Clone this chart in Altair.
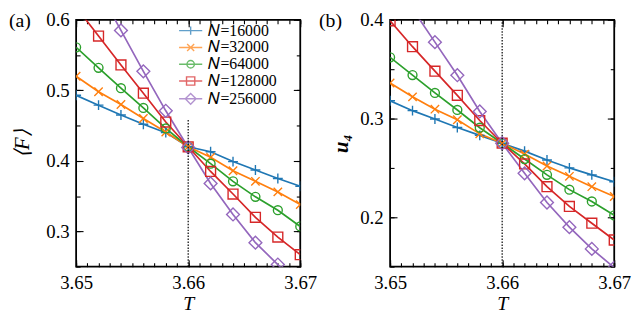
import altair as alt
import pandas as pd

SERIF = "Liberation Serif"

# ---------------- data ----------------
T = [3.650, 3.652, 3.654, 3.656, 3.658, 3.660, 3.662, 3.664, 3.666, 3.668, 3.670]
N_labels = ["𝑁=16000", "𝑁=32000", "𝑁=64000", "𝑁=128000", "𝑁=256000"]
colors = ["#1f77b4", "#ff7f0e", "#2ca02c", "#d62728", "#9467bd"]

# panel (a): <F>
F_16000 = [0.493, 0.479, 0.465, 0.452, 0.440, 0.420, 0.413, 0.399, 0.387, 0.375, 0.364]
F_32000 = [0.520, 0.498, 0.480, 0.460, 0.441, 0.420, 0.405, 0.386, 0.371, 0.356, 0.338]
F_64000 = [0.561, 0.532, 0.503, 0.475, 0.446, 0.420, 0.396, 0.371, 0.349, 0.330, 0.307]
F_128000 = [0.618, 0.577, 0.536, 0.496, 0.455, 0.420, 0.385, 0.353, 0.320, 0.292, 0.267]
F_256000 = [0.700, 0.643, 0.585, 0.527, 0.471, 0.419, 0.368, 0.324, 0.284, 0.253, 0.222]

# panel (b): u4
U_16000 = [0.318, 0.308, 0.2995, 0.291, 0.283, 0.275, 0.267, 0.258, 0.250, 0.243, 0.236]
U_32000 = [0.336, 0.322, 0.3095, 0.2988, 0.2845, 0.275, 0.264, 0.252, 0.2415, 0.231, 0.221]
U_64000 = [0.362, 0.344, 0.326, 0.3087, 0.2907, 0.275, 0.259, 0.243, 0.228, 0.216, 0.202]
U_128000 = [0.399, 0.3728, 0.348, 0.3235, 0.298, 0.275, 0.254, 0.231, 0.211, 0.194, 0.177]
U_256000 = [0.445, 0.411, 0.3774, 0.3439, 0.3072, 0.275, 0.2445, 0.215, 0.190, 0.168, 0.149]

T_c = 3.66
x_major = [3.65, 3.66, 3.67]
x_minor = [round(3.65 + 0.001 * i, 3) for i in range(21)]
ya_major = [0.3, 0.4, 0.5, 0.6]
ya_minor = [0.25, 0.3, 0.35, 0.4, 0.45, 0.5, 0.55, 0.6]
yb_major = [0.2, 0.3, 0.4]
yb_minor = [0.15, 0.2, 0.25, 0.3, 0.35, 0.4]

# marker paths (unit box), and legend versions with a line through
m_plus = "M-1,0H1M0,-1V1"
m_x = "M-0.85,-0.85L0.85,0.85M-0.85,0.85L0.85,-0.85"
m_circle = "M0.9,0A0.9,0.9 0 1,1 -0.9,0A0.9,0.9 0 1,1 0.9,0Z"
m_square = "M-1,-1H1V1H-1Z"
m_diamond = "M0,-1.3L1.3,0L0,1.3L-1.3,0Z"
markers = [m_plus, m_x, m_circle, m_square, m_diamond]
legend_markers = ["M-2.8,0H2.8" + m for m in markers]

W, H = 227, 250


def long_df(series):
    rows = []
    for lab, vals in zip(N_labels, series):
        for t, v in zip(T, vals):
            rows.append({"T": t, "val": v, "N": lab})
    return pd.DataFrame(rows)


def axis(orient, values, size, labels=False, fmt=None, title=None, title_style=None,
         title_weight="normal", label_pad=6, title_pad=4, title_size=20):
    kw = dict(orient=orient, values=values, tickSize=size, offset=-size, domain=False,
              grid=False, ticks=True, tickColor="black", tickWidth=1.1, labels=labels)
    if labels:
        kw.update(format=fmt, labelFont=SERIF, labelFontSize=19, labelColor="black",
                  labelPadding=label_pad, labelFlush=False, labelOverlap=False)
    if title is not None:
        kw.update(title=title, titleFont=SERIF, titleFontSize=title_size, titleColor="black",
                  titleFontStyle=title_style, titleFontWeight=title_weight,
                  titlePadding=title_pad)
    else:
        kw.update(title=None)
    return alt.Axis(**kw)


def legend_def():
    return alt.Legend(orient="none", legendX=108, legendY=3, title=None, labelFont=SERIF,
                      labelFontSize=16, labelColor="black", symbolSize=70,
                      symbolStrokeWidth=1.4, labelOffset=10, rowPadding=1, padding=0,
                      symbolFillColor="transparent")


def panel(series, ydom, ymaj, ymin, fmt_y, ytitle, ytitle_weight, ytitle_pad, letter,
          letter_dx, rule_lo, rule_hi, show_legend):
    df = long_df(series)
    xs = alt.Scale(domain=[3.65, 3.67], nice=False, zero=False)
    ys = alt.Scale(domain=ydom, nice=False, zero=False)
    cs = alt.Scale(domain=N_labels, range=colors)
    ss = alt.Scale(domain=N_labels, range=markers)

    lines = alt.Chart(df).mark_line(clip=True, strokeWidth=1.7).encode(
        x=alt.X("T:Q", scale=xs, axis=axis("bottom", x_major, 7, labels=True, fmt=".2f",
                                            title="T", title_style="italic", label_pad=7,
                                            title_pad=1)),
        y=alt.Y("val:Q", scale=ys, axis=axis("left", ymaj, 7, labels=True, fmt=fmt_y,
                                              title=ytitle, title_style="italic",
                                              title_weight=ytitle_weight, label_pad=7,
                                              title_pad=ytitle_pad, title_size=21)),
        color=alt.Color("N:N", scale=cs, legend=None),
    )
    points = alt.Chart(df).mark_point(clip=True, filled=False, size=100, strokeWidth=1.4,
                                      opacity=1).encode(
        x=alt.X("T:Q", scale=xs, axis=axis("bottom", x_minor, 4)),
        y=alt.Y("val:Q", scale=ys, axis=axis("left", ymin, 4)),
        color=alt.Color("N:N", scale=cs, legend=None),
        shape=alt.Shape("N:N", scale=ss, legend=None),
    )
    rdf = pd.DataFrame({"Tc": [T_c], "lo": [rule_lo], "hi": [rule_hi]})
    rule = alt.Chart(rdf).mark_rule(color="black", strokeWidth=1.2, strokeDash=[1.5, 1.5]).encode(
        x=alt.X("Tc:Q", scale=xs, axis=axis("top", x_major, 7)),
        y=alt.Y("lo:Q", scale=ys, axis=axis("right", ymaj, 7)),
        y2="hi:Q",
    )
    ghost = alt.Chart(rdf).mark_rule(opacity=0).encode(
        x=alt.X("Tc:Q", scale=xs, axis=axis("top", x_minor, 4)),
        y=alt.Y("lo:Q", scale=ys, axis=axis("right", ymin, 4)),
    )
    ldf = pd.DataFrame({"lab": [letter]})
    letter_txt = alt.Chart(ldf).mark_text(align="left", baseline="top", font=SERIF,
                                           fontSize=20, color="black").encode(
        x=alt.value(letter_dx), y=alt.value(-9), text="lab:N")
    layers = [lines, points, rule, ghost, letter_txt]
    if show_legend:
        leg = alt.Chart(df).transform_filter("datum.T < 0").mark_point(
            filled=False, size=70, strokeWidth=1.4).encode(
            x=alt.X("T:Q", scale=xs, axis=None),
            y=alt.Y("val:Q", scale=ys, axis=None),
            color=alt.Color("N:N", scale=alt.Scale(domain=N_labels, range=colors),
                            legend=legend_def()),
            shape=alt.Shape("N:N", scale=alt.Scale(domain=N_labels, range=legend_markers),
                            legend=legend_def()),
        )
        layers.append(leg)
    ch = alt.layer(*layers).resolve_scale(color="independent", shape="independent").resolve_axis(
        x="independent", y="independent").properties(width=W, height=H)
    return ch


pa = panel([F_16000, F_32000, F_64000, F_128000, F_256000], [0.25, 0.6], ya_major, ya_minor,
           ".1f", "⟨F⟩", "normal", 13, "(a)", -68, 0.25, 0.46, True)
pb = panel([U_16000, U_32000, U_64000, U_128000, U_256000], [0.15, 0.4], yb_major, yb_minor,
           ".1f", "u₄", "bold", 8, "(b)", -72, 0.15, 0.4, False)

chart = alt.hconcat(pa, pb, spacing=91, bounds="flush", padding=0).resolve_scale(
    color="independent", shape="independent").configure_view(stroke="black", strokeWidth=1.8)

chart.save("out.html", embed_options={"renderer": "svg", "actions": False})
